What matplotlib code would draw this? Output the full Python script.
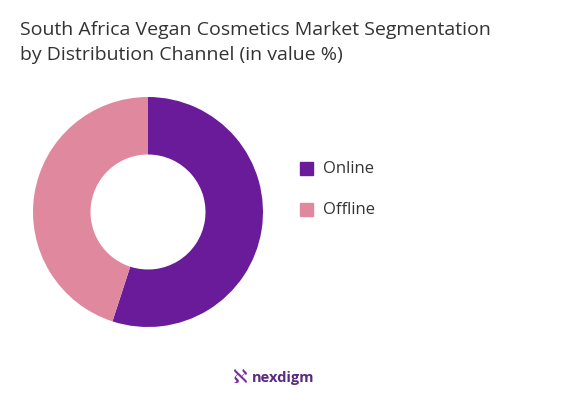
import matplotlib.pyplot as plt
from matplotlib.patches import Rectangle

labels = ["Online", "Offline"]
shares = [55, 45]
colors = ["#6A1B9A", "#DF889E"]

plt.rcParams['font.family'] = ['Open Sans', 'DejaVu Sans']

fig = plt.figure(figsize=(5.62, 4.07), dpi=100)
fig.text(20/562, 1 - 30/407, "South Africa Vegan Cosmetics Market Segmentation",
         fontsize=14, color="#333333", va="center")
fig.text(20/562, 1 - 55/407, "by Distribution Channel (in value %)",
         fontsize=14, color="#333333", va="center")

ax = fig.add_axes([33/562, 80/407, 230/562, 230/407])
ax.pie(shares, colors=colors, startangle=90, counterclock=False,
       wedgeprops=dict(width=0.5, edgecolor="none"))
ax.set_xlim(-1, 1)
ax.set_ylim(-1, 1)
ax.set_aspect("equal")

for i, (lab, c) in enumerate(zip(labels, colors)):
    y = 1 - (169 + 41 * i) / 407
    fig.patches.append(Rectangle((300/562, y - 6/407), 13/562, 13/407,
                                 transform=fig.transFigure, color=c))
    fig.text(323/562, y, lab, fontsize=12, color="#333333", va="center")

fig.text(240/562, 1 - 378/407, "\u2135", fontsize=14, color="#7B2D9E",
         va="center", ha="center")
fig.text(252/562, 1 - 378/407, "nexdigm", fontsize=10.5, color="#5A2A82",
         va="center", fontweight="bold")

fig.savefig("out.png", dpi=100, facecolor="white")
